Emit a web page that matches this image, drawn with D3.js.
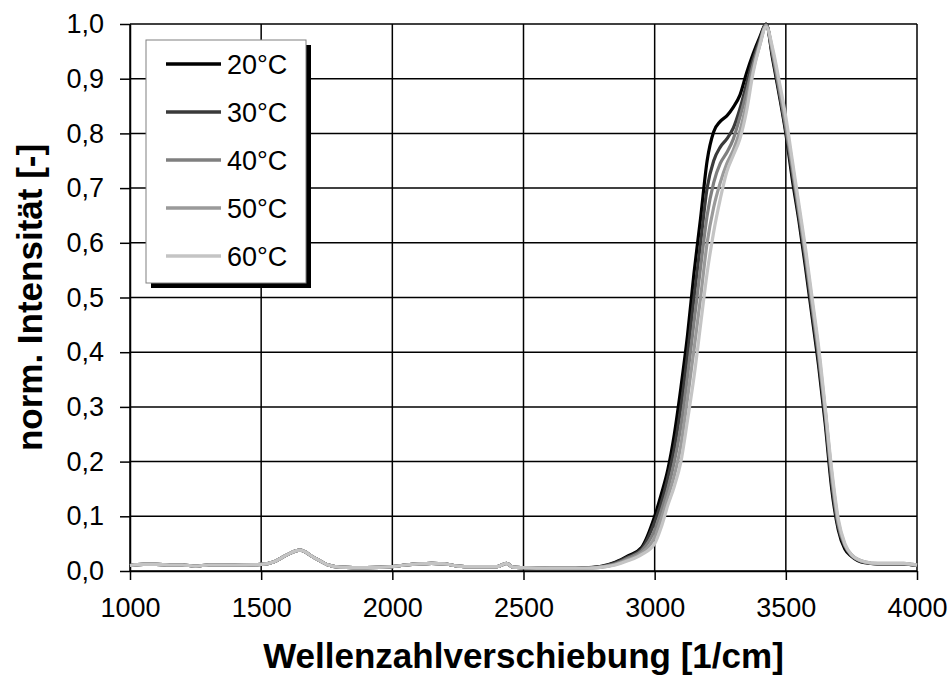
<!DOCTYPE html>
<html lang="de">
<head>
<meta charset="UTF-8">
<title>Raman OH-Bande</title>
<script src="https://d3js.org/d3.v7.min.js"></script>
<style>
    body { margin: 0; padding: 0; background: #fff; }
    svg { display: block; font-family: "Liberation Sans", Arial, sans-serif; }
    .grid line { stroke: #000; stroke-width: 1.5; }
    .axis text { font-size: 27px; fill: #000; }
    .axis path, .axis line { stroke: #000; stroke-width: 1.5; }
    .title { font-size: 35px; font-weight: bold; }
    .series { fill: none; stroke-width: 3.2; stroke-linejoin: round; }
</style>
</head>
<body>
<script>
// Temperaturen (Legende) und Farben
var temps = ['20°C', '30°C', '40°C', '50°C', '60°C'];
var colors = ['#000000', '#3a3a3a', '#7f7f7f', '#9a9a9a', '#c4c4c4'];

// gemeinsamer Untergrund 1000-2700 1/cm (alle Kurven fast gleich)
var baseWn  = [1000, 1050, 1100, 1150, 1200, 1250, 1300, 1400, 1500, 1550, 1600, 1648, 1700, 1750, 1800, 1900, 2000, 2050, 2100, 2150, 2200, 2250, 2300, 2400, 2435, 2460, 2500, 2600, 2700];
var baseInt = [0.010, 0.012, 0.012, 0.011, 0.011, 0.009, 0.011, 0.011, 0.012, 0.017, 0.030, 0.038, 0.025, 0.012, 0.007, 0.006, 0.008, 0.011, 0.013, 0.014, 0.013, 0.009, 0.008, 0.008, 0.014, 0.007, 0.006, 0.005, 0.005];

// OH-Streckschwingungsbande
var bandWn = [2750, 2800, 2850, 2900, 2950, 3000, 3025, 3050, 3075, 3100, 3125, 3150, 3175, 3200, 3225, 3250, 3275, 3300, 3325, 3350, 3375, 3400, 3425, 3450, 3475, 3500, 3525, 3550, 3575, 3600, 3625, 3650, 3675, 3700, 3725, 3750, 3800, 3850, 3900, 3950, 4000];
var int20 = [0.006, 0.009, 0.016, 0.028, 0.043, 0.100, 0.140, 0.185, 0.250, 0.335, 0.430, 0.545, 0.645, 0.750, 0.803, 0.822, 0.832, 0.848, 0.870, 0.910, 0.945, 0.975, 1.000, 0.935, 0.870, 0.800, 0.715, 0.640, 0.555, 0.465, 0.375, 0.270, 0.150, 0.075, 0.040, 0.027, 0.015, 0.013, 0.013, 0.013, 0.010];
var int30 = [0.006, 0.008, 0.015, 0.026, 0.040, 0.090, 0.125, 0.170, 0.225, 0.300, 0.395, 0.500, 0.600, 0.700, 0.750, 0.775, 0.790, 0.810, 0.845, 0.890, 0.935, 0.970, 1.000, 0.940, 0.875, 0.805, 0.725, 0.648, 0.565, 0.475, 0.385, 0.280, 0.160, 0.080, 0.045, 0.028, 0.016, 0.013, 0.013, 0.013, 0.010];
var int40 = [0.006, 0.008, 0.013, 0.024, 0.037, 0.075, 0.110, 0.150, 0.200, 0.265, 0.355, 0.455, 0.555, 0.650, 0.710, 0.745, 0.765, 0.790, 0.830, 0.875, 0.925, 0.965, 0.998, 0.945, 0.880, 0.812, 0.735, 0.655, 0.575, 0.485, 0.395, 0.290, 0.170, 0.085, 0.047, 0.029, 0.016, 0.013, 0.013, 0.013, 0.010];
var int50 = [0.005, 0.007, 0.012, 0.021, 0.033, 0.062, 0.095, 0.135, 0.175, 0.230, 0.315, 0.405, 0.500, 0.600, 0.665, 0.710, 0.745, 0.770, 0.805, 0.855, 0.915, 0.960, 0.997, 0.950, 0.888, 0.820, 0.742, 0.662, 0.582, 0.492, 0.402, 0.295, 0.178, 0.090, 0.048, 0.030, 0.017, 0.014, 0.014, 0.014, 0.011];
var int60 = [0.005, 0.007, 0.011, 0.019, 0.030, 0.050, 0.080, 0.120, 0.155, 0.200, 0.275, 0.355, 0.450, 0.545, 0.620, 0.680, 0.730, 0.760, 0.790, 0.840, 0.910, 0.960, 0.995, 0.955, 0.895, 0.830, 0.750, 0.670, 0.590, 0.500, 0.410, 0.300, 0.185, 0.095, 0.050, 0.030, 0.017, 0.014, 0.014, 0.014, 0.011];
var bands = [int20, int30, int40, int50, int60];

var xTicks = [1000, 1500, 2000, 2500, 3000, 3500, 4000];
var yTicks = [0, 0.1, 0.2, 0.3, 0.4, 0.5, 0.6, 0.7, 0.8, 0.9, 1.0];

var width = 951, height = 693;
var margin = {left: 130, top: 24, right: 34, bottom: 122};
var w = width - margin.left - margin.right;
var h = height - margin.top - margin.bottom;

var de = d3.formatLocale({decimal: ',', thousands: '.', grouping: [3], currency: ['', ' €']});

var x = d3.scaleLinear().domain([1000, 4000]).range([0, w]);
var y = d3.scaleLinear().domain([0, 1]).range([h, 0]);

var svg = d3.select('body').append('svg')
    .attr('width', width)
    .attr('height', height);

var g = svg.append('g').attr('transform', 'translate(' + margin.left + ',' + margin.top + ')');

// Gitter
g.append('g').attr('class', 'grid')
    .selectAll('line').data(yTicks).enter().append('line')
    .attr('x1', 0).attr('x2', w)
    .attr('y1', function(d) { return y(d); }).attr('y2', function(d) { return y(d); });
g.append('g').attr('class', 'grid')
    .selectAll('line').data(xTicks).enter().append('line')
    .attr('y1', 0).attr('y2', h)
    .attr('x1', function(d) { return x(d); }).attr('x2', function(d) { return x(d); });

// Achsen
g.append('g').attr('class', 'axis')
    .attr('transform', 'translate(0,' + h + ')')
    .call(d3.axisBottom(x).tickValues(xTicks).tickFormat(d3.format('d')).tickSize(9).tickPadding(18).tickSizeOuter(0));
g.append('g').attr('class', 'axis')
    .call(d3.axisLeft(y).tickValues(yTicks).tickFormat(de.format('.1f')).tickSize(10).tickPadding(16).tickSizeOuter(0));

// Kurven
var line = d3.line()
    .x(function(d) { return x(d[0]); })
    .y(function(d) { return y(d[1]); })
    .curve(d3.curveMonotoneX);

var series = temps.map(function(t, i) {
    var pts = baseWn.map(function(v, j) { return [v, baseInt[j]]; });
    bandWn.forEach(function(v, j) { pts.push([v, bands[i][j]]); });
    return pts;
});

g.selectAll('.series').data(series).enter().append('path')
    .attr('class', 'series')
    .attr('d', line)
    .attr('stroke', function(d, i) { return colors[i]; });

// Legende
var lg = svg.append('g').attr('transform', 'translate(146,40)');
lg.append('rect').attr('x', 5).attr('y', 5).attr('width', 160).attr('height', 243).attr('fill', '#000');
lg.append('rect').attr('x', 0).attr('y', 0).attr('width', 160).attr('height', 243)
    .attr('fill', '#fff').attr('stroke', '#808080').attr('stroke-width', 1);
var items = lg.selectAll('.item').data(temps).enter().append('g')
    .attr('transform', function(d, i) { return 'translate(0,' + (24 + i * 48) + ')'; });
items.append('line').attr('x1', 20).attr('x2', 75)
    .attr('stroke', function(d, i) { return colors[i]; }).attr('stroke-width', 3.5);
items.append('text').attr('x', 81).attr('dy', '0.36em')
    .style('font-size', '27px').text(function(d) { return d; });

// Achsentitel
svg.append('text').attr('class', 'title')
    .attr('x', margin.left + w / 2).attr('y', 668)
    .attr('text-anchor', 'middle')
    .text('Wellenzahlverschiebung [1/cm]');
svg.append('text').attr('class', 'title')
    .attr('transform', 'translate(42,' + (margin.top + h / 2) + ') rotate(-90)')
    .attr('text-anchor', 'middle')
    .text('norm. Intensität [-]');
</script>
</body>
</html>
